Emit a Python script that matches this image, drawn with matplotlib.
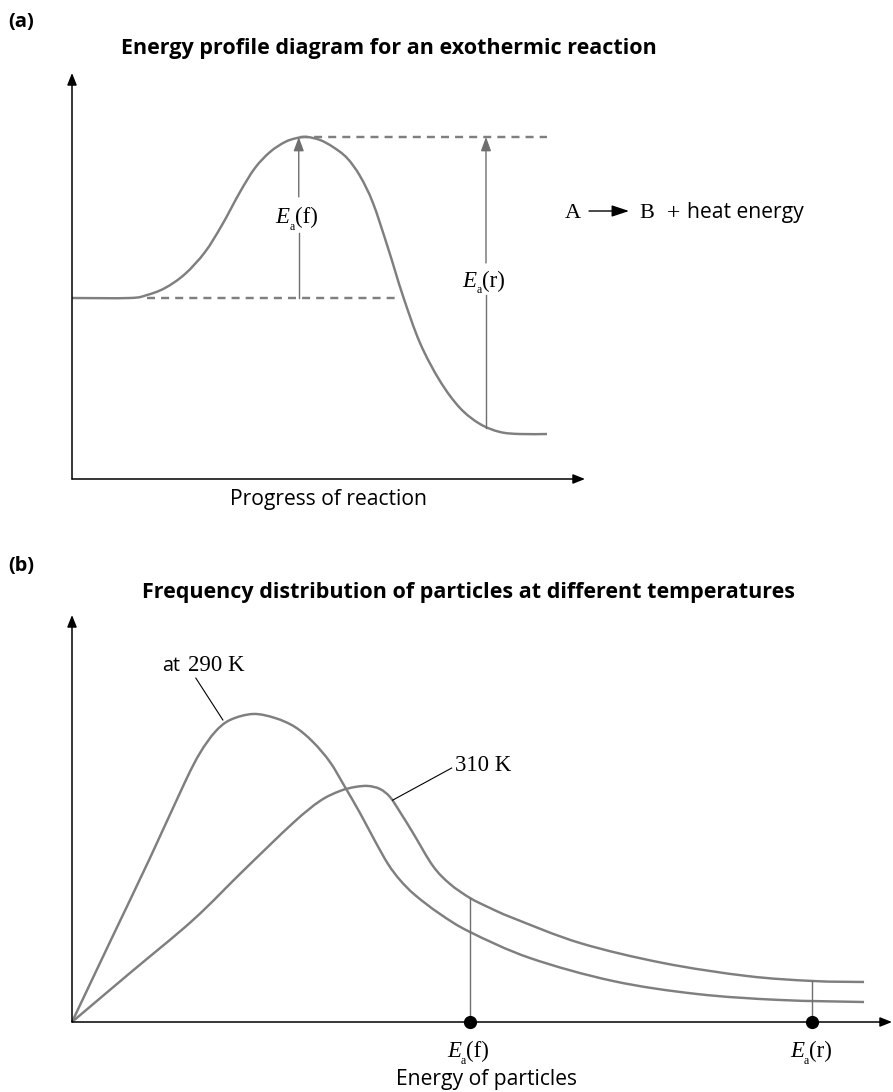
import numpy as np
import matplotlib
matplotlib.use("Agg")
import matplotlib.pyplot as plt
from matplotlib.path import Path
from matplotlib.patches import PathPatch, FancyArrowPatch

# ---------------- data ----------------
# Panel (a): energy profile (arbitrary units, axes 0..100)
progress = [0, 11.31, 14.62, 18.13, 22.03, 25.93, 29.24, 32.75, 35.67, 38.60,
            41.52, 43.86, 45.81, 48.34, 50.88, 53.61, 56.14, 58.67, 61.60,
            64.52, 67.84, 71.73, 75.63, 79.53, 83.43, 87.33, 92.59]
energy = [44.58, 44.58, 45.32, 47.04, 50.49, 55.91, 62.56, 70.69, 76.60,
          80.54, 83.00, 83.99, 84.24, 83.50, 81.77, 79.06, 74.63, 67.98,
          56.90, 45.07, 33.50, 24.14, 17.49, 13.55, 11.58, 11.08, 11.08]
reactant_level = 44.58
peak_level = 84.24
product_level_at_arrow = 12.6
ea_f_x = 44.2
ea_r_x = 80.7
lower_dash_x = [14.6, 63.5]
upper_dash_x = [44.4, 92.6]
ea_f_gap = (60.6, 69.5)
ea_r_gap = (45.3, 53.2)

# Panel (b): frequency distributions (arbitrary units, axes 0..100)
energy_290 = [0, 4.63, 9.51, 13.78, 15.61, 17.44, 19.27, 22.07, 24.76, 27.20,
              29.39, 31.46, 33.29, 35.12, 36.95, 38.54, 40.00, 41.83, 44.88,
              48.54, 55.85, 65.98, 76.22, 86.34, 96.59]
freq_290 = [0, 19.66, 40.29, 58.97, 66.09, 71.25, 74.20, 75.68, 74.69, 72.48,
            68.80, 63.88, 57.74, 51.35, 44.47, 38.82, 34.89, 31.20, 26.54,
            22.11, 15.72, 10.07, 6.88, 5.41, 4.91]
energy_310 = [0, 7.07, 14.76, 20.85, 26.95, 30.24, 32.68, 34.51, 36.10, 37.56,
              38.78, 40.00, 41.59, 44.02, 46.10, 48.54, 50.98, 53.78, 61.95,
              72.07, 82.32, 90.37, 96.59]
freq_310 = [0, 12.04, 25.06, 37.10, 48.89, 54.30, 56.76, 57.74, 57.99, 57.25,
            55.28, 51.60, 46.44, 38.33, 33.91, 30.47, 28.01, 25.55, 19.41,
            14.50, 11.30, 10.07, 9.83]
ea_f_energy = 48.54
ea_r_energy = 90.2
ea_f_height = 30.47
ea_r_height = 10.1

W, H, DPI = 893, 1092, 100
GRAY = "#7f7f7f"
ARROW_GRAY = "#6f6f6f"
SANS = "Open Sans"
SERIF = "Liberation Serif"

fig = plt.figure(figsize=(W / DPI, H / DPI), dpi=DPI)
renderer = fig.canvas.get_renderer()


def fx(px):
    return px / W


def fy(py):
    return 1 - py / H


def fit(t, target_w):
    bb = t.get_window_extent(renderer)
    if bb.width > 0:
        t.set_fontsize(t.get_fontsize() * target_w / bb.width)
    return t


def width(t):
    return t.get_window_extent(renderer).width


def smooth_path(xs, ys):
    P = np.column_stack([xs, ys]).astype(float)
    n = len(P)
    verts = [P[0]]
    codes = [Path.MOVETO]
    for i in range(n - 1):
        p0 = P[i - 1] if i > 0 else P[i]
        p1, p2 = P[i], P[i + 1]
        p3 = P[i + 2] if i + 2 < n else P[i + 1]
        verts += [p1 + (p2 - p0) / 6, p2 - (p3 - p1) / 6, p2]
        codes += [Path.CURVE4] * 3
    return Path(verts, codes)


def draw_axes_arrows(ax):
    style = "-|>,head_length=0.55,head_width=0.22"
    for end in [(1, 0), (0, 1)]:
        ax.annotate("", xy=end, xytext=(0, 0), xycoords="axes fraction",
                    textcoords="axes fraction",
                    arrowprops=dict(arrowstyle=style, color="black", lw=1.1,
                                    shrinkA=0, shrinkB=0, mutation_scale=13))


def ea_label(xc, yb, sub, size=16.5):
    tE = fig.text(0, 0, "E", family=SERIF, style="italic", fontsize=size,
                  va="baseline")
    ts = fig.text(0, 0, "a", family=SERIF, fontsize=size * 0.52,
                  va="baseline")
    tP = fig.text(0, 0, "(" + sub + ")", family=SERIF, fontsize=size,
                  va="baseline")
    wE, ws, wP = width(tE), width(ts), width(tP)
    x0 = xc - (wE + ws + wP) / 2
    tE.set_position((fx(x0), fy(yb)))
    ts.set_position((fx(x0 + wE), fy(yb + 6.5)))
    tP.set_position((fx(x0 + wE + ws + 0.3), fy(yb)))


# ---------------- panel (a) ----------------
ax_a = fig.add_axes([fx(72), fy(479), fx(585 - 72), (479 - 73) / H])
ax_a.set_xlim(0, 100)
ax_a.set_ylim(0, 100)
ax_a.axis("off")
draw_axes_arrows(ax_a)

ax_a.add_patch(PathPatch(smooth_path(progress, energy), fc="none", ec=GRAY,
                         lw=1.75, clip_on=False))
dash = (0, (3.3, 2.5))
ax_a.plot(lower_dash_x, [reactant_level] * 2, color=GRAY, lw=1.75, ls=dash,
          clip_on=False)
ax_a.plot(upper_dash_x, [peak_level] * 2, color=GRAY, lw=1.75, ls=dash,
          clip_on=False)

gstyle = "-|>,head_length=0.6,head_width=0.22"
for xpos, y0, gap in [(ea_f_x, reactant_level, ea_f_gap),
                      (ea_r_x, product_level_at_arrow, ea_r_gap)]:
    ax_a.plot([xpos, xpos], [y0, gap[0]], color=ARROW_GRAY, lw=1.0)
    ax_a.annotate("", xy=(xpos, peak_level), xytext=(xpos, gap[1]),
                  arrowprops=dict(arrowstyle=gstyle, color=ARROW_GRAY, lw=1.0,
                                  shrinkA=0, shrinkB=0, mutation_scale=14))

ea_label(296.5, 223, "f")
ea_label(483.5, 287, "r")

# reaction equation
fig.text(fx(565), fy(218), "A", family=SERIF, fontsize=16, va="baseline")
fig.add_artist(FancyArrowPatch(
    (fx(589), fy(211)), (fx(629), fy(211)), transform=fig.transFigure,
    arrowstyle="-|>,head_length=0.75,head_width=0.25", mutation_scale=14,
    color="black", lw=1.0, shrinkA=0, shrinkB=0))
fig.text(fx(639), fy(218), "B", family=SERIF, fontsize=16, va="baseline")
fig.text(fx(667), fy(219), "+", family=SERIF, fontsize=17, va="baseline")
t = fig.text(fx(687), fy(218), "heat energy", family=SANS, fontsize=15,
             va="baseline")
fit(t, 117)

t = fig.text(fx(329), fy(500), "Progress of reaction", family=SANS,
             fontsize=15, ha="center", va="center")
fit(t, 198)

t = fig.text(fx(8.5), fy(22), "(a)", family=SANS, weight="bold",
             fontsize=13, va="center")
fit(t, 26)
t = fig.text(fx(388.5), fy(54), "Energy profile diagram for an exothermic reaction",
             family=SANS, weight="bold", fontsize=13, ha="center",
             va="baseline")
fit(t, 533)

# ---------------- panel (b) ----------------
ax_b = fig.add_axes([fx(72), fy(1022), fx(892 - 72), (1022 - 615) / H])
ax_b.set_xlim(0, 100)
ax_b.set_ylim(0, 100)
ax_b.axis("off")
draw_axes_arrows(ax_b)

ax_b.add_patch(PathPatch(smooth_path(energy_290, freq_290), fc="none",
                         ec=GRAY, lw=1.75, clip_on=False))
ax_b.add_patch(PathPatch(smooth_path(energy_310, freq_310), fc="none",
                         ec=GRAY, lw=1.75, clip_on=False))

for xpos, hgt in [(ea_f_energy, ea_f_height), (ea_r_energy, ea_r_height)]:
    ax_b.plot([xpos, xpos], [0, hgt], color=ARROW_GRAY, lw=1.0, clip_on=False)
    ax_b.plot([xpos], [0], "o", color="black", ms=8.5, clip_on=False,
              zorder=5)

# leaders and temperature labels
ax_b.plot([15.1, 18.4], [84.5, 74.2], color="black", lw=0.8, clip_on=False)
ax_b.plot([39.1, 46.3], [54.5, 62.4], color="black", lw=0.8, clip_on=False)
t = ax_b.text(11.0, 86.2, "at", family=SANS, fontsize=14, va="baseline")
fit(t, 18)
ax_b.text(14.1, 86.2, "290 K", family=SERIF, fontsize=16.5, va="baseline")
ax_b.text(46.7, 61.7, "310 K", family=SERIF, fontsize=16.5, va="baseline")

ea_label(468, 1057, "f")
ea_label(811, 1057, "r")
t = fig.text(fx(487), fy(1079), "Energy of particles", family=SANS,
             fontsize=15, ha="center", va="center")
fit(t, 182)

t = fig.text(fx(8.5), fy(566), "(b)", family=SANS, weight="bold",
             fontsize=13, va="center")
fit(t, 26)
t = fig.text(fx(468.5), fy(598),
             "Frequency distribution of particles at different temperatures",
             family=SANS, weight="bold", fontsize=13, ha="center",
             va="baseline")
fit(t, 647)

fig.savefig("out.png", dpi=DPI, facecolor="white")
